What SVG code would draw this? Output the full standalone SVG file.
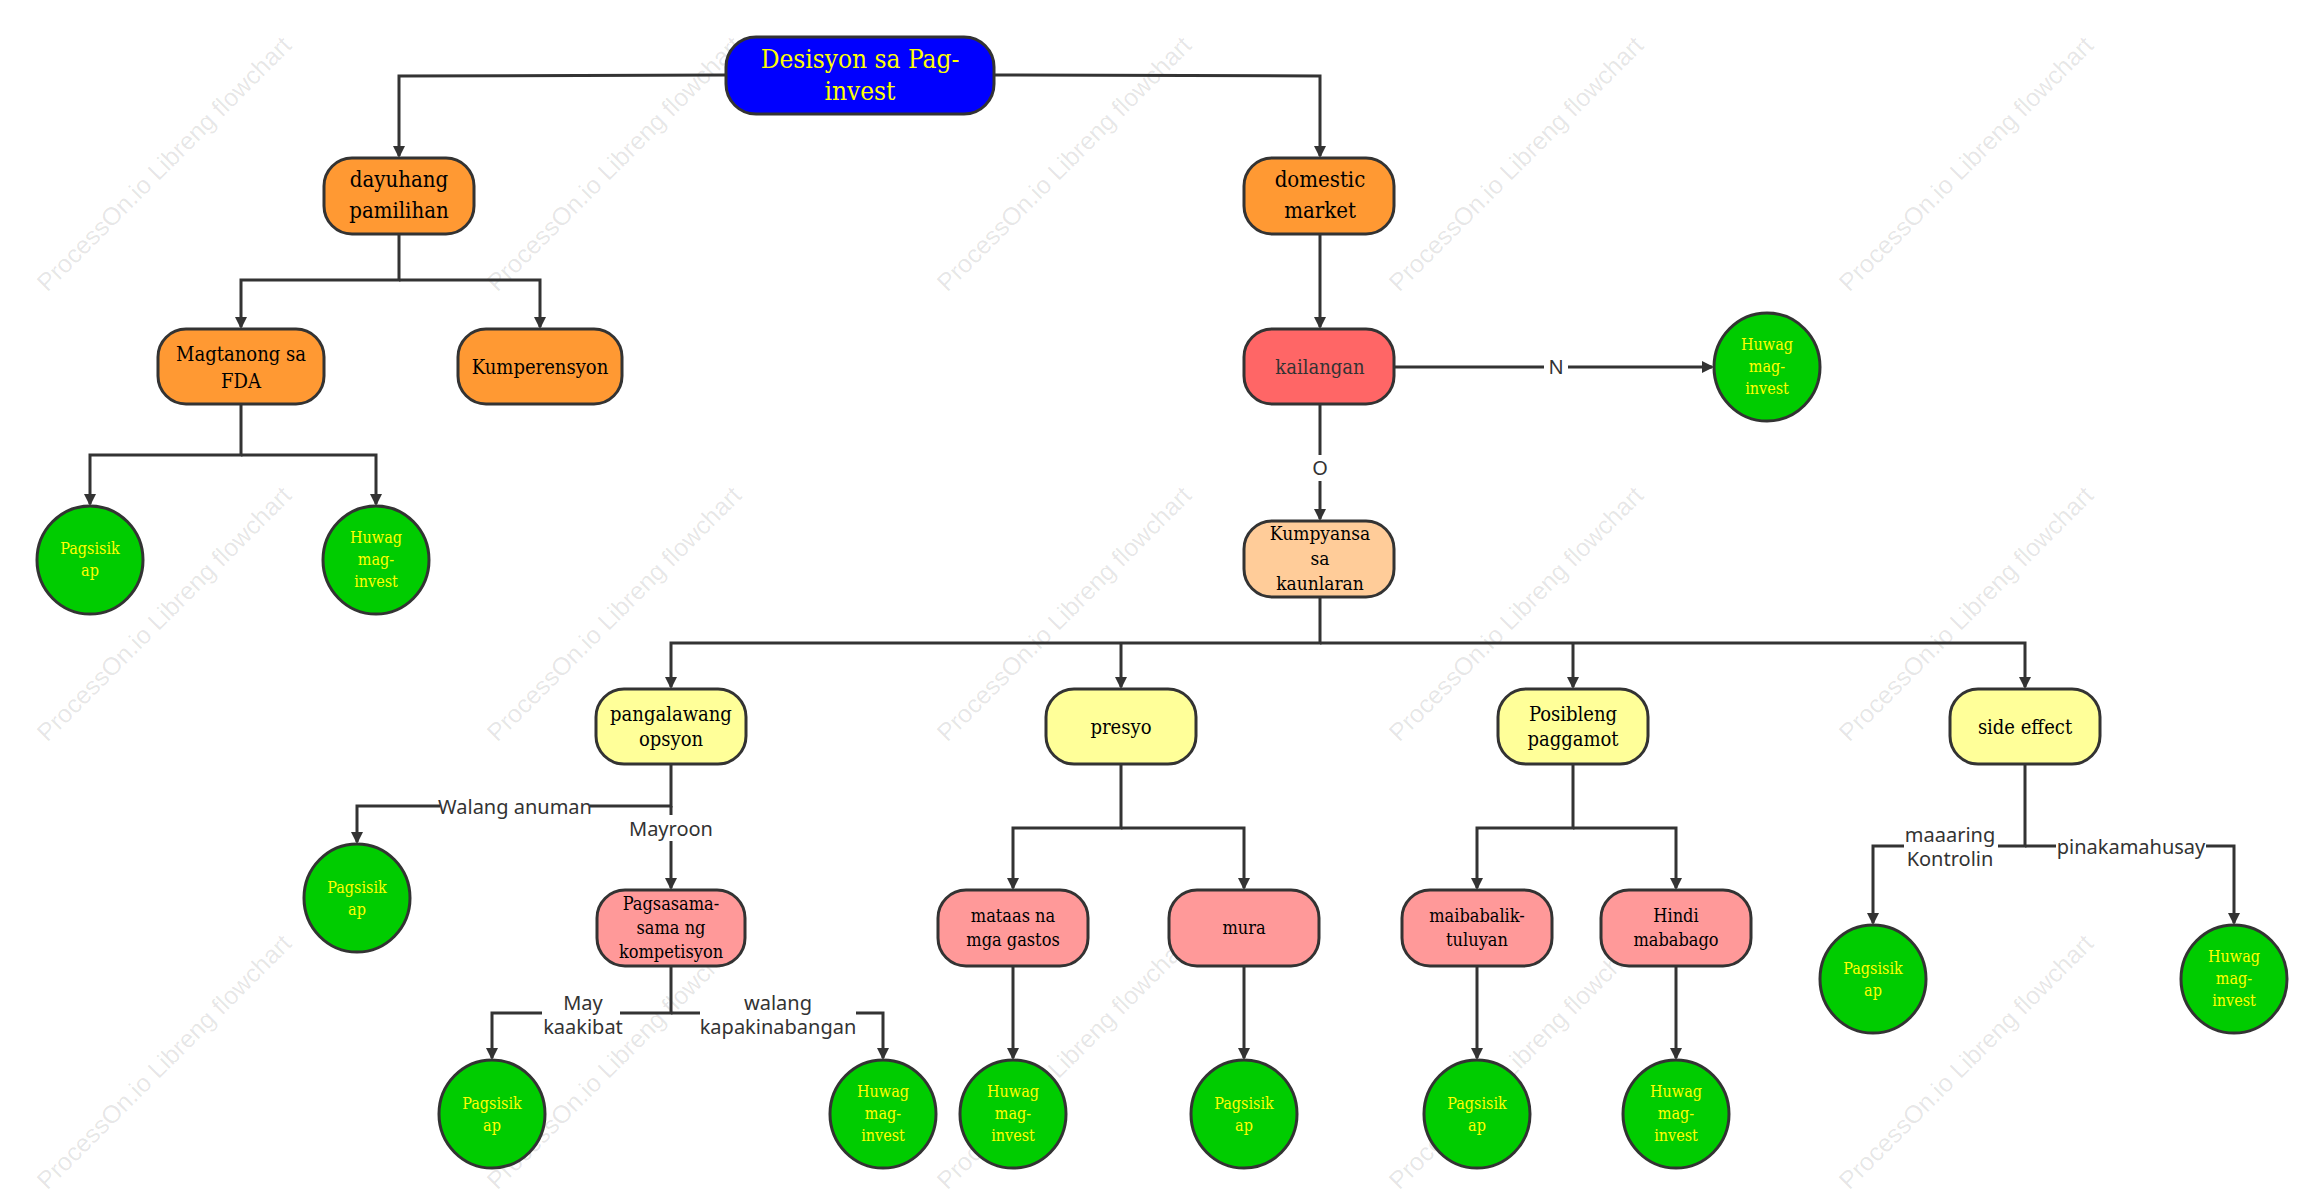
<svg xmlns="http://www.w3.org/2000/svg" width="2323" height="1204" viewBox="0 0 2323 1204">
<style>
.n{stroke:#333;stroke-width:3}
.t{font-family:"DejaVu Serif Condensed","Liberation Serif",serif;font-size:20px;fill:#000;text-anchor:middle}
.c{font-family:"DejaVu Serif Condensed","Liberation Serif",serif;font-size:16px;fill:#ff0;text-anchor:middle}
.l{font-family:"Noto Sans","Liberation Sans",sans-serif;font-size:20px;fill:#333;text-anchor:middle}
.e{fill:none;stroke:#333;stroke-width:3}
.w{font-family:"Liberation Sans",sans-serif;font-size:25px;fill:#000;fill-opacity:0.1}
.lb{fill:#fff}
</style>
<defs><marker id="a" markerWidth="12" markerHeight="12" refX="10" refY="6" orient="auto" markerUnits="userSpaceOnUse"><path d="M0,0 L12,6 L0,12 z" fill="#333"/></marker></defs>
<rect width="2323" height="1204" fill="#fff"/>
<g id="watermarks">
<text class="w" transform="translate(170,170) rotate(-45)" text-anchor="middle">ProcessOn.io Libreng flowchart</text>
<text class="w" transform="translate(620,170) rotate(-45)" text-anchor="middle">ProcessOn.io Libreng flowchart</text>
<text class="w" transform="translate(1070,170) rotate(-45)" text-anchor="middle">ProcessOn.io Libreng flowchart</text>
<text class="w" transform="translate(1522,170) rotate(-45)" text-anchor="middle">ProcessOn.io Libreng flowchart</text>
<text class="w" transform="translate(1972,170) rotate(-45)" text-anchor="middle">ProcessOn.io Libreng flowchart</text>
<text class="w" transform="translate(170,620) rotate(-45)" text-anchor="middle">ProcessOn.io Libreng flowchart</text>
<text class="w" transform="translate(620,620) rotate(-45)" text-anchor="middle">ProcessOn.io Libreng flowchart</text>
<text class="w" transform="translate(1070,620) rotate(-45)" text-anchor="middle">ProcessOn.io Libreng flowchart</text>
<text class="w" transform="translate(1522,620) rotate(-45)" text-anchor="middle">ProcessOn.io Libreng flowchart</text>
<text class="w" transform="translate(1972,620) rotate(-45)" text-anchor="middle">ProcessOn.io Libreng flowchart</text>
<text class="w" transform="translate(170,1068) rotate(-45)" text-anchor="middle">ProcessOn.io Libreng flowchart</text>
<text class="w" transform="translate(620,1068) rotate(-45)" text-anchor="middle">ProcessOn.io Libreng flowchart</text>
<text class="w" transform="translate(1070,1068) rotate(-45)" text-anchor="middle">ProcessOn.io Libreng flowchart</text>
<text class="w" transform="translate(1522,1068) rotate(-45)" text-anchor="middle">ProcessOn.io Libreng flowchart</text>
<text class="w" transform="translate(1972,1068) rotate(-45)" text-anchor="middle">ProcessOn.io Libreng flowchart</text>
</g>
<g id="connectors">
<path class="e" d="M726,75 L399,76 L399,156" marker-end="url(#a)"/>
<path class="e" d="M994,75 L1320,76 L1320,156" marker-end="url(#a)"/>
<path class="e" d="M399,234 L399,280 L241,280 L241,327" marker-end="url(#a)"/>
<path class="e" d="M399,280 L540,280 L540,327" marker-end="url(#a)"/>
<path class="e" d="M241,404 L241,455 L90,455 L90,504" marker-end="url(#a)"/>
<path class="e" d="M241,455 L376,455 L376,504" marker-end="url(#a)"/>
<path class="e" d="M1320,234 L1320,327" marker-end="url(#a)"/>
<path class="e" d="M1394,367 L1712,367" marker-end="url(#a)"/>
<rect class="lb" x="1544" y="354" width="24" height="26"/><text class="l" x="1556" y="374">N</text>
<path class="e" d="M1320,404 L1320,519" marker-end="url(#a)"/>
<rect class="lb" x="1308" y="455" width="24" height="26"/><text class="l" x="1320" y="475">O</text>
<path class="e" d="M1320,597 L1320,643 L671,643 L671,687" marker-end="url(#a)"/>
<path class="e" d="M1121,643 L1121,687" marker-end="url(#a)"/>
<path class="e" d="M1320,643 L2025,643 L2025,687" marker-end="url(#a)"/>
<path class="e" d="M1573,643 L1573,687" marker-end="url(#a)"/>
<path class="e" d="M671,764 L671,806 L357,806 L357,842" marker-end="url(#a)"/>
<rect class="lb" x="440" y="794" width="150" height="26"/><text class="l" x="515" y="814">Walang anuman</text>
<path class="e" d="M671,806 L671,888" marker-end="url(#a)"/>
<rect class="lb" x="626" y="815" width="90" height="26"/><text class="l" x="671" y="836">Mayroon</text>
<path class="e" d="M671,966 L671,1013 L492,1013 L492,1058" marker-end="url(#a)"/>
<path class="e" d="M671,1013 L883,1013 L883,1058" marker-end="url(#a)"/>
<rect class="lb" x="542" y="990" width="78" height="48"/><text class="l" x="583" y="1010">May</text><text class="l" x="583" y="1034">kaakibat</text>
<rect class="lb" x="700" y="990" width="156" height="48"/><text class="l" x="778" y="1010">walang</text><text class="l" x="778" y="1034">kapakinabangan</text>
<path class="e" d="M1121,764 L1121,828 L1013,828 L1013,888" marker-end="url(#a)"/>
<path class="e" d="M1121,828 L1244,828 L1244,888" marker-end="url(#a)"/>
<path class="e" d="M1013,966 L1013,1058" marker-end="url(#a)"/>
<path class="e" d="M1244,966 L1244,1058" marker-end="url(#a)"/>
<path class="e" d="M1573,764 L1573,828 L1477,828 L1477,888" marker-end="url(#a)"/>
<path class="e" d="M1573,828 L1676,828 L1676,888" marker-end="url(#a)"/>
<path class="e" d="M1477,966 L1477,1058" marker-end="url(#a)"/>
<path class="e" d="M1676,966 L1676,1058" marker-end="url(#a)"/>
<path class="e" d="M2025,764 L2025,846 L1873,846 L1873,923" marker-end="url(#a)"/>
<path class="e" d="M2025,846 L2234,846 L2234,923" marker-end="url(#a)"/>
<rect class="lb" x="1904" y="822" width="94" height="48"/><text class="l" x="1950" y="842">maaaring</text><text class="l" x="1950" y="866">Kontrolin</text>
<rect class="lb" x="2056" y="834" width="150" height="26"/><text class="l" x="2131" y="854">pinakamahusay</text>
</g>
<g id="n-root"><rect class="n" x="726" y="37" width="268" height="77" rx="30" fill="#0000ff"/><text class="t" x="860" y="68" style="fill:#ff0;font-size:26px">Desisyon sa Pag-</text><text class="t" x="860" y="100" style="fill:#ff0;font-size:26px">invest</text></g>
<g id="n-dayuhang"><rect class="n" x="324" y="158" width="150" height="76" rx="28" fill="#ff9933"/><text class="t" x="399" y="187" style="font-size:22px">dayuhang</text><text class="t" x="399" y="218" style="font-size:22px">pamilihan</text></g>
<g id="n-domestic"><rect class="n" x="1244" y="158" width="150" height="76" rx="28" fill="#ff9933"/><text class="t" x="1320" y="187" style="font-size:22px">domestic</text><text class="t" x="1320" y="218" style="font-size:22px">market</text></g>
<g id="n-magtanong"><rect class="n" x="158" y="329" width="166" height="75" rx="28" fill="#ff9933"/><text class="t" x="241" y="361">Magtanong sa</text><text class="t" x="241" y="388">FDA</text></g>
<g id="n-kumperensyon"><rect class="n" x="458" y="329" width="164" height="75" rx="28" fill="#ff9933"/><text class="t" x="540" y="374">Kumperensyon</text></g>
<g id="n-kailangan"><rect class="n" x="1244" y="329" width="150" height="75" rx="28" fill="#ff6666"/><text class="t" x="1320" y="374" style="fill:#333">kailangan</text></g>
<g id="n-huwag0"><ellipse class="n" cx="1767" cy="367" rx="53" ry="54" fill="#00cc00"/><text class="c" x="1767" y="350">Huwag</text><text class="c" x="1767" y="372">mag-</text><text class="c" x="1767" y="394">invest</text></g>
<g id="n-pag1"><ellipse class="n" cx="90" cy="560" rx="53" ry="54" fill="#00cc00"/><text class="c" x="90" y="554">Pagsisik</text><text class="c" x="90" y="576">ap</text></g>
<g id="n-huwag1"><ellipse class="n" cx="376" cy="560" rx="53" ry="54" fill="#00cc00"/><text class="c" x="376" y="543">Huwag</text><text class="c" x="376" y="565">mag-</text><text class="c" x="376" y="587">invest</text></g>
<g id="n-kumpyansa"><rect class="n" x="1244" y="521" width="150" height="76" rx="28" fill="#ffcc99"/><text class="t" x="1320" y="540" style="font-size:19px">Kumpyansa</text><text class="t" x="1320" y="565" style="font-size:19px">sa</text><text class="t" x="1320" y="590" style="font-size:19px">kaunlaran</text></g>
<g id="n-pangalawang"><rect class="n" x="596" y="689" width="150" height="75" rx="28" fill="#ffff99"/><text class="t" x="671" y="721">pangalawang</text><text class="t" x="671" y="746">opsyon</text></g>
<g id="n-presyo"><rect class="n" x="1046" y="689" width="150" height="75" rx="28" fill="#ffff99"/><text class="t" x="1121" y="734">presyo</text></g>
<g id="n-posibleng"><rect class="n" x="1498" y="689" width="150" height="75" rx="28" fill="#ffff99"/><text class="t" x="1573" y="721">Posibleng</text><text class="t" x="1573" y="746">paggamot</text></g>
<g id="n-side"><rect class="n" x="1950" y="689" width="150" height="75" rx="28" fill="#ffff99"/><text class="t" x="2025" y="734">side effect</text></g>
<g id="n-pag2"><ellipse class="n" cx="357" cy="898" rx="53" ry="54" fill="#00cc00"/><text class="c" x="357" y="893">Pagsisik</text><text class="c" x="357" y="915">ap</text></g>
<g id="n-pagsasama"><rect class="n" x="597" y="890" width="148" height="76" rx="28" fill="#ff9999"/><text class="t" x="671" y="910" style="font-size:18px">Pagsasama-</text><text class="t" x="671" y="934" style="font-size:18px">sama ng</text><text class="t" x="671" y="958" style="font-size:18px">kompetisyon</text></g>
<g id="n-mataas"><rect class="n" x="938" y="890" width="150" height="76" rx="28" fill="#ff9999"/><text class="t" x="1013" y="922" style="font-size:18px">mataas na</text><text class="t" x="1013" y="946" style="font-size:18px">mga gastos</text></g>
<g id="n-mura"><rect class="n" x="1169" y="890" width="150" height="76" rx="28" fill="#ff9999"/><text class="t" x="1244" y="934" style="font-size:18px">mura</text></g>
<g id="n-maibabalik"><rect class="n" x="1402" y="890" width="150" height="76" rx="28" fill="#ff9999"/><text class="t" x="1477" y="922" style="font-size:18px">maibabalik-</text><text class="t" x="1477" y="946" style="font-size:18px">tuluyan</text></g>
<g id="n-hindi"><rect class="n" x="1601" y="890" width="150" height="76" rx="28" fill="#ff9999"/><text class="t" x="1676" y="922" style="font-size:18px">Hindi</text><text class="t" x="1676" y="946" style="font-size:18px">mababago</text></g>
<g id="n-pag3"><ellipse class="n" cx="492" cy="1114" rx="53" ry="54" fill="#00cc00"/><text class="c" x="492" y="1109">Pagsisik</text><text class="c" x="492" y="1131">ap</text></g>
<g id="n-huwag3"><ellipse class="n" cx="883" cy="1114" rx="53" ry="54" fill="#00cc00"/><text class="c" x="883" y="1097">Huwag</text><text class="c" x="883" y="1119">mag-</text><text class="c" x="883" y="1141">invest</text></g>
<g id="n-huwag4"><ellipse class="n" cx="1013" cy="1114" rx="53" ry="54" fill="#00cc00"/><text class="c" x="1013" y="1097">Huwag</text><text class="c" x="1013" y="1119">mag-</text><text class="c" x="1013" y="1141">invest</text></g>
<g id="n-pag4"><ellipse class="n" cx="1244" cy="1114" rx="53" ry="54" fill="#00cc00"/><text class="c" x="1244" y="1109">Pagsisik</text><text class="c" x="1244" y="1131">ap</text></g>
<g id="n-pag5"><ellipse class="n" cx="1477" cy="1114" rx="53" ry="54" fill="#00cc00"/><text class="c" x="1477" y="1109">Pagsisik</text><text class="c" x="1477" y="1131">ap</text></g>
<g id="n-huwag5"><ellipse class="n" cx="1676" cy="1114" rx="53" ry="54" fill="#00cc00"/><text class="c" x="1676" y="1097">Huwag</text><text class="c" x="1676" y="1119">mag-</text><text class="c" x="1676" y="1141">invest</text></g>
<g id="n-pag6"><ellipse class="n" cx="1873" cy="979" rx="53" ry="54" fill="#00cc00"/><text class="c" x="1873" y="974">Pagsisik</text><text class="c" x="1873" y="996">ap</text></g>
<g id="n-huwag6"><ellipse class="n" cx="2234" cy="979" rx="53" ry="54" fill="#00cc00"/><text class="c" x="2234" y="962">Huwag</text><text class="c" x="2234" y="984">mag-</text><text class="c" x="2234" y="1006">invest</text></g>
</svg>
